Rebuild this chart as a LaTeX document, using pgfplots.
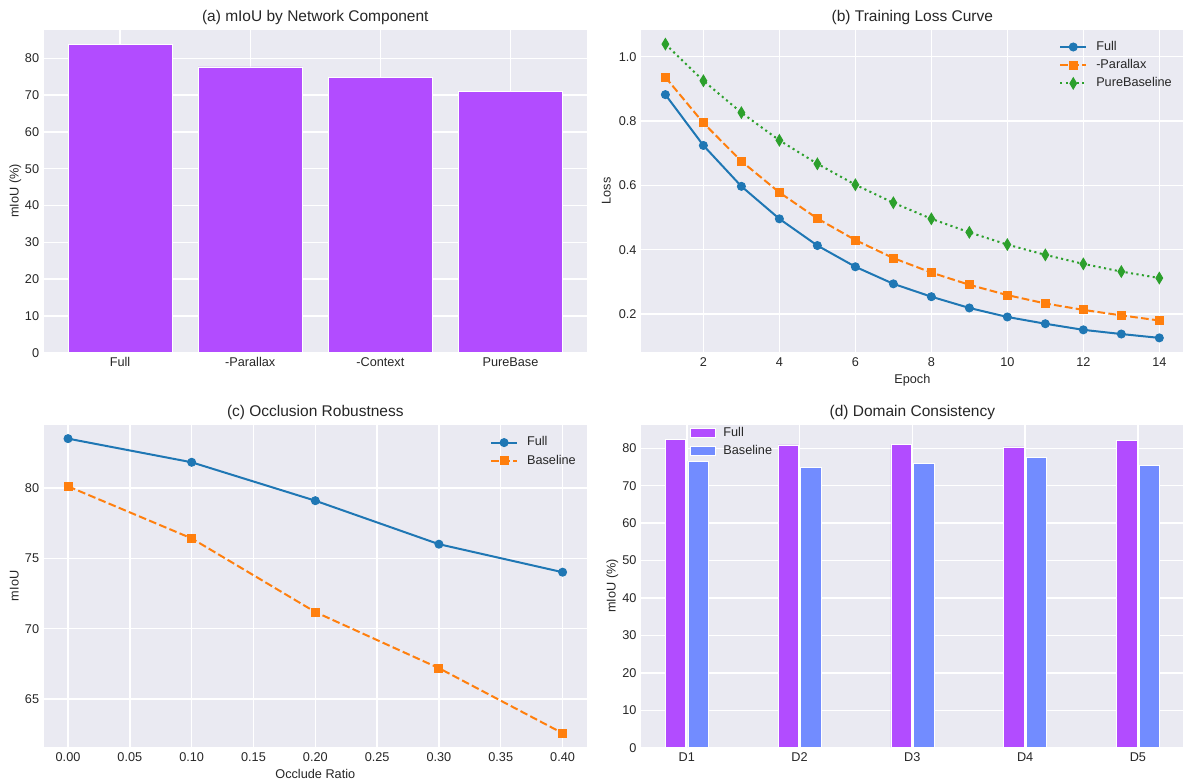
\documentclass[border=0pt]{standalone}
\usepackage{pgfplots}
\pgfplotsset{compat=1.18}
\usepackage{fontspec}
\setmainfont{Liberation Sans}
\definecolor{bgc}{HTML}{EAEAF2}
\definecolor{txt}{HTML}{262626}
\definecolor{barpurple}{RGB}{178,76,255}
\definecolor{barblue}{RGB}{114,140,255}
\definecolor{tabblue}{HTML}{1F77B4}
\definecolor{taborange}{HTML}{FF7F0E}
\definecolor{tabgreen}{HTML}{2CA02C}
\pgfplotsset{
  sb/.style={
    scale only axis, anchor=south west,
    axis background/.style={fill=bgc},
    axis line style={draw=white, line width=1.2pt},
    grid=major, major grid style={draw=white, line width=1.4pt},
    major tick length=0pt, tick style={draw=none},
    scaled x ticks=false, scaled y ticks=false,
    title style={at={(axis description cs:0.5,1)}, anchor=base, yshift=1.3pt, font=\fontsize{15.5}{18}\selectfont, text=txt},
    tick label style={font=\fontsize{12.7}{15}\selectfont, text=txt},
    xticklabel style={anchor=north, inner sep=0pt, yshift=-4.8pt},
    yticklabel style={anchor=east, inner sep=0pt, xshift=-4pt},
    label style={font=\fontsize{12.7}{15}\selectfont, text=txt},
    xlabel style={at={(axis description cs:0.5,0)}, anchor=base, yshift=-31pt},
    ylabel style={anchor=base},
    /pgf/number format/assume math mode=true,
    legend cell align=left,
    legend style={draw=none, fill=none, inner sep=0pt, row sep=2pt,
      nodes={inner sep=2pt, text height=9.5pt, text depth=2.7pt},
      font=\fontsize{12.7}{15}\selectfont, text=txt},
  },
  linelegend/.style={legend image code/.code={
      \draw[mark repeat=2,mark phase=2,##1] plot coordinates {(0pt,0pt) (13pt,0pt) (26pt,0pt)};
      \path (33pt,0pt);}},
  barlegend/.style={legend image code/.code={
      \fill[##1] (0pt,-4.5pt) rectangle (25pt,4.5pt);
      \path (31pt,0pt);}},
}
\begin{document}
\begin{tikzpicture}
\useasboundingbox (0pt,0pt) rectangle (1184pt,782pt);
% (a)
\begin{axis}[sb, at={(43.3pt,429.3pt)}, width=544pt, height=323.4pt,
  title={(a) mIoU by Network Component},
  ylabel={mIoU (\%)}, ylabel style={at={(axis description cs:-0.0454,0.5)}},
  xmin=-0.59, xmax=3.59, ymin=0, ymax=87.9,
  xtick={0,1,2,3}, xticklabels={Full,-Parallax,-Context,PureBase},
  ytick={0,10,20,30,40,50,60,70,80}]
\addplot[ybar, bar width=0.8, bar shift=0pt, fill=barpurple, draw=white, line width=0.5pt]
  coordinates {(0,83.7) (1,77.7) (2,74.8) (3,71.1)};
\end{axis}
% (b)
\begin{axis}[sb, linelegend, at={(640.7pt,429.3pt)}, width=543.3pt, height=323.4pt,
  title={(b) Training Loss Curve},
  xlabel={Epoch}, ylabel={Loss}, ylabel style={at={(axis description cs:-0.0552,0.5)}},
  xmin=0.35, xmax=14.65, ymin=0.080, ymax=1.085,
  xtick={2,4,6,8,10,12,14}, ytick={0.2,0.4,0.6,0.8,1.0},
  yticklabel style={/pgf/number format/fixed, /pgf/number format/fixed zerofill, /pgf/number format/precision=1},
  legend style={at={(1,1)}, anchor=north east, xshift=-10pt, yshift=-9.4pt}]
\addplot[tabblue, line width=2pt, mark=*, mark size=4pt, mark options={solid, line width=1pt}]
  coordinates {(1,0.882) (2,0.724) (3,0.597) (4,0.496) (5,0.413) (6,0.347) (7,0.294) (8,0.254) (9,0.219) (10,0.191) (11,0.170) (12,0.151) (13,0.138) (14,0.126)};
\addlegendentry{Full}
\addplot[taborange, line width=2pt, dash pattern=on 7.7pt off 3.3pt, mark=square*, mark size=4pt, mark options={solid, line width=1pt}]
  coordinates {(1,0.936) (2,0.794) (3,0.675) (4,0.578) (5,0.497) (6,0.430) (7,0.374) (8,0.329) (9,0.291) (10,0.259) (11,0.233) (12,0.213) (13,0.196) (14,0.180)};
\addlegendentry{-Parallax}
\addplot[tabgreen, line width=2pt, dash pattern=on 2.1pt off 3.4pt, mark=diamond*, mark size=5.6pt, mark options={solid, line width=1pt, xscale=0.8}]
  coordinates {(1,1.039) (2,0.925) (3,0.826) (4,0.740) (5,0.667) (6,0.602) (7,0.546) (8,0.496) (9,0.454) (10,0.416) (11,0.384) (12,0.356) (13,0.332) (14,0.312)};
\addlegendentry{PureBaseline}
\end{axis}
% (c)
\begin{axis}[sb, linelegend, at={(43.3pt,34.3pt)}, width=544pt, height=323.7pt,
  title={(c) Occlusion Robustness},
  xlabel={Occlude Ratio}, ylabel={mIoU}, ylabel style={at={(axis description cs:-0.0454,0.5)}},
  xmin=-0.02, xmax=0.42, ymin=61.55, ymax=84.55,
  xtick={0,0.05,0.1,0.15,0.2,0.25,0.3,0.35,0.4}, ytick={65,70,75,80},
  xticklabel style={/pgf/number format/fixed, /pgf/number format/fixed zerofill, /pgf/number format/precision=2},
  legend style={at={(1,1)}, anchor=north east, xshift=-9.3pt, yshift=-10.3pt}]
\addplot[tabblue, line width=2pt, mark=*, mark size=4pt, mark options={solid, line width=1pt}]
  coordinates {(0,83.51) (0.1,81.83) (0.2,79.1) (0.3,76.01) (0.4,74.02)};
\addlegendentry{Full}
\addplot[taborange, line width=2pt, dash pattern=on 7.7pt off 3.3pt, mark=square*, mark size=4pt, mark options={solid, line width=1pt}]
  coordinates {(0,80.12) (0.1,76.42) (0.2,71.19) (0.3,67.2) (0.4,62.58)};
\addlegendentry{Baseline}
\end{axis}
% (d)
\begin{axis}[sb, barlegend, at={(640.7pt,34.3pt)}, width=543.3pt, height=323.7pt,
  title={(d) Domain Consistency},
  ylabel={mIoU (\%)}, ylabel style={at={(axis description cs:-0.046,0.5)}},
  xmin=-0.409, xmax=4.409, ymin=0, ymax=86.5,
  xtick={0,1,2,3,4}, xticklabels={D1,D2,D3,D4,D5},
  ytick={0,10,20,30,40,50,60,70,80},
  legend style={at={(0,1)}, anchor=north west, xshift=49pt, yshift=-0.7pt}]
\addplot[ybar, bar width=0.18, bar shift=0pt, fill=barpurple, draw=white, line width=0.5pt]
  coordinates {(-0.1,82.3) (0.9,80.9) (1.9,81.0) (2.9,80.4) (3.9,82.1)};
\addlegendentry{Full}
\addplot[ybar, bar width=0.18, bar shift=0pt, fill=barblue, draw=white, line width=0.5pt]
  coordinates {(0.1,76.6) (1.1,74.9) (2.1,76.0) (3.1,77.5) (4.1,75.4)};
\addlegendentry{Baseline}
\end{axis}
\end{tikzpicture}
\end{document}
